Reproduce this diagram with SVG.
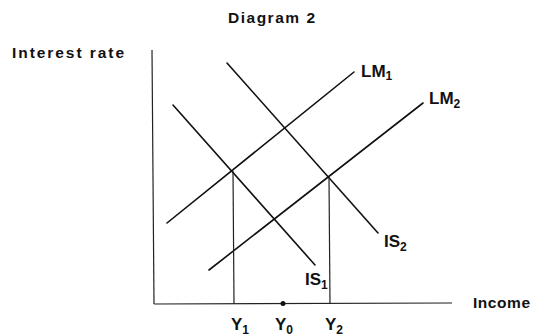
<svg xmlns="http://www.w3.org/2000/svg" width="546" height="336" viewBox="0 0 546 336">
<style>
.t{font-family:"Liberation Sans",Arial,sans-serif;font-weight:bold;font-size:15.5px;fill:#111}
.l{font-size:17px}
.s{font-size:12px}
.c{stroke:#111;stroke-width:1.6;fill:none;stroke-linecap:round}
.ax{stroke:#222;stroke-width:1.2;fill:none}
</style>
<rect width="546" height="336" fill="#fff"/>
<text class="t" x="228" y="23" textLength="87">Diagram 2</text>
<g id="axes">
<line class="ax" x1="152" y1="50" x2="154" y2="304"/>
<line class="ax" x1="154" y1="304" x2="452" y2="303"/>
<text class="t" x="12" y="58" textLength="112">Interest rate</text>
<text class="t" x="473" y="308" textLength="57">Income</text>
</g>
<g id="connectors">
<line class="c" x1="167" y1="223" x2="354" y2="72"/>
<line class="c" x1="209" y1="270" x2="423" y2="103"/>
<line class="c" x1="173" y1="105" x2="315" y2="265"/>
<line class="c" x1="227" y1="63" x2="378" y2="233"/>
<line class="ax" x1="233" y1="171" x2="234" y2="304"/>
<line class="ax" x1="329" y1="178" x2="330" y2="304"/>
</g>
<g id="LM1"><text class="t l" x="361" y="77">LM<tspan class="s" dy="3">1</tspan></text></g>
<g id="LM2"><text class="t l" x="429" y="104">LM<tspan class="s" dy="4">2</tspan></text></g>
<g id="IS1"><text class="t l" x="305" y="285">IS<tspan class="s" dy="4">1</tspan></text></g>
<g id="IS2"><text class="t l" x="384" y="247">IS<tspan class="s" dy="4">2</tspan></text></g>
<g id="Y0"><circle cx="283" cy="303.5" r="2.5" fill="#111"/><text class="t l" x="275" y="330">Y<tspan class="s" dy="4">0</tspan></text></g>
<g id="Y1"><text class="t l" x="231" y="330">Y<tspan class="s" dy="4">1</tspan></text></g>
<g id="Y2"><text class="t l" x="325" y="330">Y<tspan class="s" dy="4">2</tspan></text></g>
</svg>
